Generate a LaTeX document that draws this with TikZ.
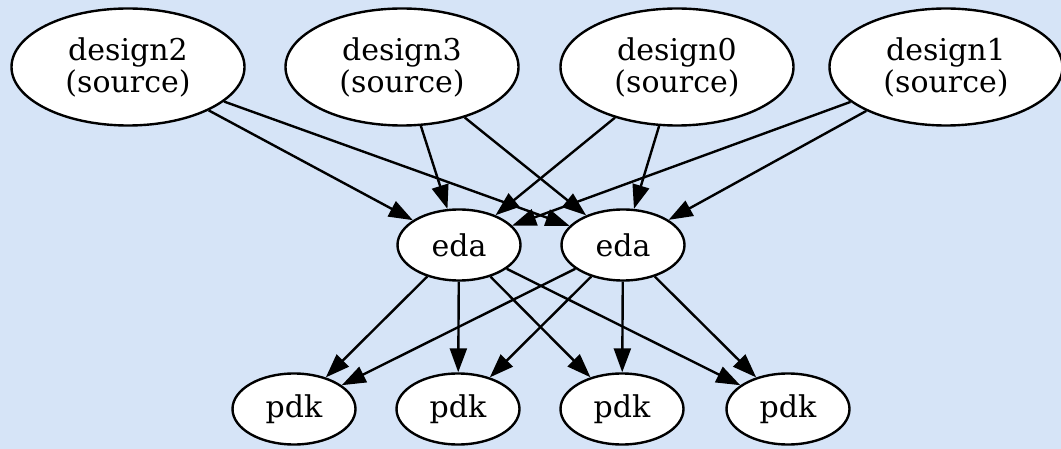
\documentclass[tikz,border=0pt]{standalone}
\usepackage{fontspec}
\setmainfont{DejaVu Serif}
\usetikzlibrary{shapes.geometric,arrows.meta}
\definecolor{bgblue}{HTML}{D6E4F7}
\tikzset{
  graphnode/.style={ellipse, draw=black, fill=white, line width=2.4pt,
    inner sep=0pt, font=\fontsize{30}{32}\selectfont, align=center},
  srcnode/.style={graphnode, minimum width=233pt, minimum height=117pt},
  smallnode/.style={graphnode, minimum width=123pt, minimum height=71pt},
  edge/.style={line width=2.4pt, -{Triangle[length=24pt,width=17pt]}}
}
\begin{document}
\begin{tikzpicture}[x=1pt,y=-1pt]
  \fill[bgblue] (0,0) rectangle (1061,449);
  \useasboundingbox (0,0) rectangle (1061,449);

  % sources
  \node[srcnode] (d2) at (128,67) {design2\\(source)};
  \node[srcnode] (d3) at (402,67) {design3\\(source)};
  \node[srcnode] (d0) at (677,67) {design0\\(source)};
  \node[srcnode] (d1) at (946,67) {design1\\(source)};

  % tools
  \node[smallnode] (e1) at (459,245) {eda};
  \node[smallnode] (e2) at (623,245) {eda};

  % kits
  \node[smallnode] (p1) at (294,409) {pdk};
  \node[smallnode] (p2) at (458,409) {pdk};
  \node[smallnode] (p3) at (622,409) {pdk};
  \node[smallnode] (p4) at (788,409) {pdk};

  \foreach \s in {d2,d3,d0,d1}{
    \draw[edge] (\s) -- (e1);
    \draw[edge] (\s) -- (e2);
  }
  \foreach \t in {p1,p2,p3,p4}{
    \draw[edge] (e1) -- (\t);
    \draw[edge] (e2) -- (\t);
  }
\end{tikzpicture}
\end{document}
